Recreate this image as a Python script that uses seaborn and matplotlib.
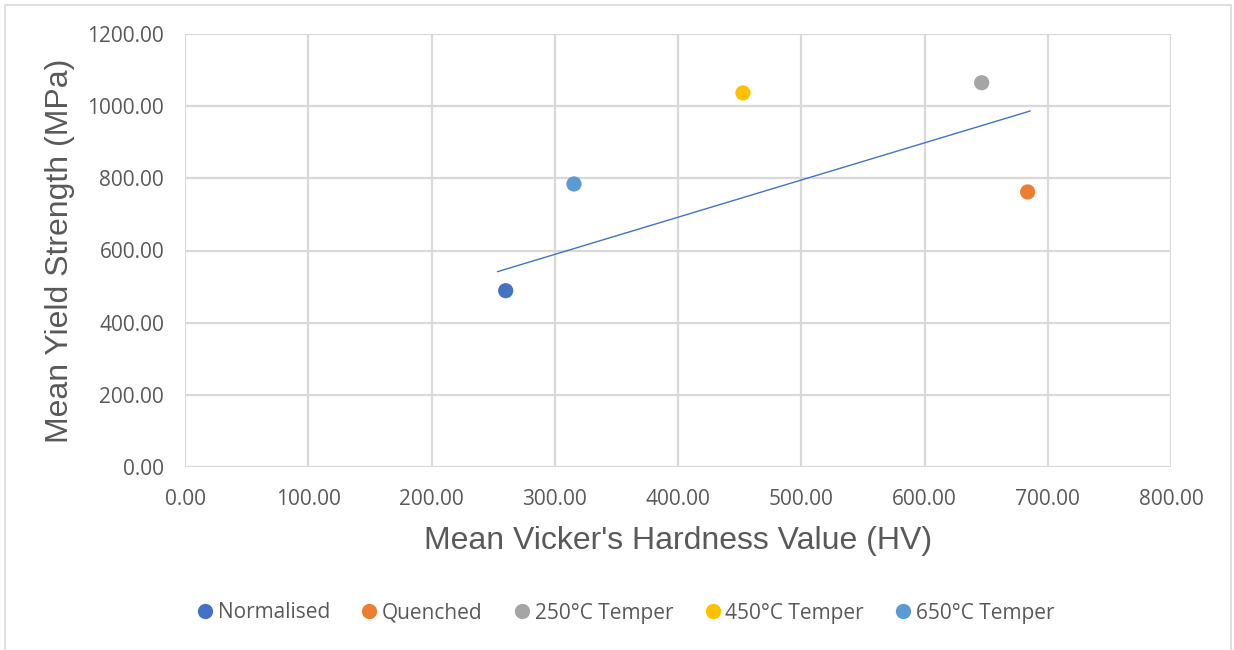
import matplotlib
matplotlib.use("Agg")
import matplotlib.pyplot as plt
import seaborn as sns
import pandas as pd
from matplotlib.patches import Rectangle
from matplotlib.lines import Line2D

# ---- data ----
series = ["Normalised", "Quenched", "250°C Temper", "450°C Temper", "650°C Temper"]
hardness = [260.2, 683.7, 646.4, 452.7, 315.6]
yield_strength = [488.6, 762.2, 1065.0, 1036.6, 784.4]
colors = ["#4472C4", "#ED7D31", "#A5A5A5", "#FFC000", "#5B9BD5"]
trend_x = [253.5, 685.8]
trend_y = [541.3, 986.7]
x_ticks = [0, 100, 200, 300, 400, 500, 600, 700, 800]
y_ticks = [0, 200, 400, 600, 800, 1000, 1200]

df = pd.DataFrame({"series": series, "HV": hardness, "YS": yield_strength})

sns.set_theme(style="white")
plt.rcParams['font.family'] = ['Open Sans', 'DejaVu Sans']

fig = plt.figure(figsize=(12.34, 6.5), dpi=100)
ax = fig.add_axes([185/1234, 1-467/650, (1171-185)/1234, (467-34)/650])

sns.lineplot(x=trend_x, y=trend_y, ax=ax, color="#4472C4", linewidth=1.0, zorder=2)
sns.scatterplot(data=df, x="HV", y="YS", hue="series", palette=colors,
                s=120, linewidth=0, ax=ax, zorder=3, legend=False)

ax.set_xlim(0, 800)
ax.set_ylim(0, 1200)
ax.set_xticks(x_ticks)
ax.set_yticks(y_ticks)
ax.set_xticklabels([f"{v:.2f}" for v in x_ticks])
ax.set_yticklabels([f"{v:.2f}" for v in y_ticks])
ax.tick_params(axis="both", length=0, labelsize=15, labelcolor="#595959")
ax.tick_params(axis="x", pad=16)
ax.tick_params(axis="y", pad=15)
ax.grid(True, color="#d9d9d9", linewidth=1.6)
ax.set_axisbelow(True)
for s in ax.spines.values():
    s.set_visible(False)

ax.set_xlabel("Mean Vicker's Hardness Value (HV)", fontsize=23, color="#595959",
              family="Liberation Sans", labelpad=11)
ax.set_ylabel("Mean Yield Strength (MPa)", fontsize=23, color="#595959",
              family="Liberation Sans", labelpad=9)

handles = [Line2D([0], [0], marker="o", linestyle="none", markersize=11,
                  markerfacecolor=c, markeredgewidth=0) for c in colors]
leg = fig.legend(handles, series, loc="center", bbox_to_anchor=(624.5/1234, 1-613/650),
                 ncol=5, frameon=False, fontsize=15, handletextpad=0.1,
                 columnspacing=1.4, handlelength=1.0)
for t in leg.get_texts():
    t.set_color("#595959")

fig.add_artist(Rectangle((5/1234, -0.05), (1231-5)/1234, 1.05 - 4.5/650,
                         transform=fig.transFigure, fill=False,
                         edgecolor="#d9d9d9", linewidth=1.2))

fig.savefig("out.png", dpi=100)
